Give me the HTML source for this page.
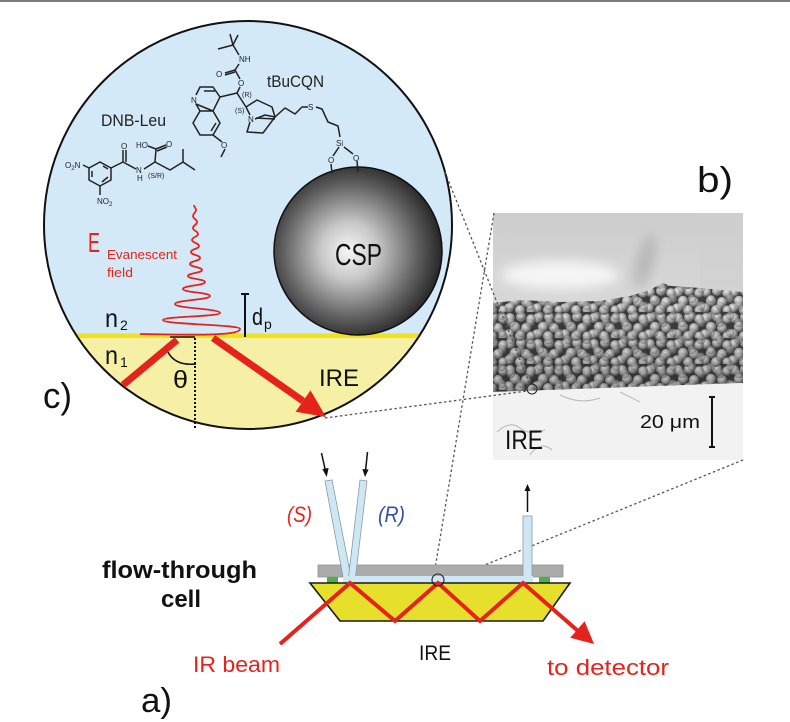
<!DOCTYPE html>
<html><head><meta charset="utf-8"><style>
html,body{margin:0;padding:0;background:#fff;}
svg{display:block;}
text{font-family:"Liberation Sans",sans-serif;}
</style></head><body>
<svg width="790" height="722" viewBox="0 0 790 722" xmlns="http://www.w3.org/2000/svg">
<defs>
<clipPath id="cc"><circle cx="248" cy="225" r="204"/></clipPath>
<radialGradient id="sph" cx="0.46" cy="0.5" r="0.56" fx="0.44" fy="0.5">
 <stop offset="0" stop-color="#f6f6f6"/>
 <stop offset="0.3" stop-color="#c8c8c8"/>
 <stop offset="0.72" stop-color="#5e5e5e"/>
 <stop offset="1" stop-color="#1e1e1e"/>
</radialGradient>
<linearGradient id="semTop" x1="0" y1="0" x2="0" y2="1">
 <stop offset="0" stop-color="#cdcdcd"/>
 <stop offset="0.45" stop-color="#dadada"/>
 <stop offset="1" stop-color="#eeeeee"/>
</linearGradient>
<radialGradient id="bead" cx="0.4" cy="0.35" r="0.65">
 <stop offset="0" stop-color="#f0f0f0"/>
 <stop offset="0.5" stop-color="#b6b6b6"/>
 <stop offset="1" stop-color="#5a5a5a"/>
</radialGradient>
<pattern id="beads" width="28" height="26" patternUnits="userSpaceOnUse">
 <rect width="28" height="26" fill="#3e3e3e"/>
 <circle cx="6" cy="6" r="5" fill="url(#bead)"/>
 <circle cx="17" cy="5" r="5" fill="url(#bead)"/>
 <circle cx="27" cy="7" r="4.8" fill="url(#bead)"/>
 <circle cx="-1" cy="7" r="4.8" fill="url(#bead)"/>
 <circle cx="11" cy="15" r="5.2" fill="url(#bead)"/>
 <circle cx="22" cy="16" r="5" fill="url(#bead)"/>
 <circle cx="5" cy="22" r="4.8" fill="url(#bead)"/>
 <circle cx="16" cy="24" r="5" fill="url(#bead)"/>
 <circle cx="16" cy="-2" r="5" fill="url(#bead)"/>
 <circle cx="5" cy="-4" r="4.8" fill="url(#bead)"/>
 <circle cx="27" cy="24" r="4.5" fill="url(#bead)"/>
 <circle cx="-1" cy="24" r="4.5" fill="url(#bead)"/>
</pattern>
<pattern id="beads2" width="19" height="17" patternUnits="userSpaceOnUse" patternTransform="translate(3,5)">
 <circle cx="5" cy="5" r="4.2" fill="url(#bead)"/>
 <circle cx="14" cy="12" r="4.4" fill="url(#bead)"/>
</pattern>
<linearGradient id="layerShade" x1="0" y1="0" x2="0" y2="1">
 <stop offset="0" stop-color="#000" stop-opacity="0"/>
 <stop offset="1" stop-color="#000" stop-opacity="0.2"/>
</linearGradient>
<filter id="blur" x="-50%" y="-50%" width="200%" height="200%"><feGaussianBlur stdDeviation="6"/></filter>
</defs>

<rect width="790" height="722" fill="#fff"/>
<rect x="0" y="0" width="790" height="2" fill="#7c7c7c"/>

<!-- ===== Panel c: circle ===== -->
<g clip-path="url(#cc)">
 <rect x="40" y="18" width="420" height="420" fill="#d4e9f7"/>
 <rect x="40" y="336" width="420" height="100" fill="#f6f0a6"/>
 <rect x="40" y="333.5" width="420" height="4.5" fill="#f2e219"/>
</g>
<circle cx="248" cy="225" r="204" fill="none" stroke="#111" stroke-width="2"/>

<!-- sphere -->
<circle cx="358" cy="251" r="84" fill="url(#sph)" stroke="#111" stroke-width="1.5"/>
<text x="335" y="265" font-size="31" fill="#111" textLength="47" lengthAdjust="spacingAndGlyphs">CSP</text>

<!-- tBuCQN structure -->
<g stroke="#222" stroke-width="1.5" fill="none" stroke-linejoin="round">
 <path d="M233,45 L230,34 M233,45 L238,35 M233,45 L218,49 M233,45 L239,55"/>
 <path d="M239,64 L235,70 L225,73 M235,72 L225,75 M235,70 L240,79 M240,87 L237,93 L220,97 M237,93 L246,107"/>
 <path d="M220,97 L213,87 L200,87 L196,95 M196,104 L200,111 L213,111 Z M213,111 L220,123 L213,135 L200,135 L193,123 L200,111 M215,91 L204,91 M216,123 L211,131 M213,135 L222,142 M225,149 L221,157"/>
 <path d="M220,97 L213,111"/>
 <path d="M246,107 L250,115 M250,122 L247,132 L263,133 L275,117 L272,107 L257,100 L246,107 M255,119 L265,115 L275,117 M256,118 L275,119"/>
 <path d="M275,117 L285,108 L295,114 L302,107 L308,107 M316,107 L322,109 L328,122 L338,126 L340,137"/>
 <path d="M339,147 L333,156 M344,147 L353,154 M331,164 L332,173 M357,161 L358,172"/>
</g>
<g font-size="8" fill="#222">
 <text x="239" y="62">NH</text>
 <text x="216" y="77">O</text>
 <text x="238" y="86">O</text>
 <text x="242" y="97" font-size="7">(R)</text>
 <text x="235" y="113" font-size="7">(S)</text>
 <text x="191" y="103">N</text>
 <text x="248" y="122">N</text>
 <text x="221" y="148">O</text>
 <text x="308" y="110">S</text>
 <text x="336" y="146">Si</text>
 <text x="328" y="163">O</text>
 <text x="353" y="161">O</text>
</g>
<text x="267" y="87" font-size="17" fill="#222" textLength="57" lengthAdjust="spacingAndGlyphs">tBuCQN</text>

<!-- DNB-Leu structure -->
<g stroke="#222" stroke-width="1.5" fill="none" stroke-linejoin="round">
 <path d="M100,162 L111,168 L111,180 L100,186 L89,180 L89,168 Z M103,166 L108,169 M108,177 L102,182 M92,177 L92,171"/>
 <path d="M83,165 L89,168 M100,186 L100,195"/>
 <path d="M111,168 L123,162 L123,150 M126,162 L126,150 M123,162 L136,169 M144,169 L155,162 L170,170 L183,162 L183,149 M183,162 L195,170"/>
 <path d="M155,162 L156,149 L148,146 M156,149 L166,145 M157,151 L167,147"/>
</g>
<g font-size="8" fill="#222">
 <text x="65" y="168">O<tspan font-size="6" dy="2">2</tspan><tspan dy="-2">N</tspan></text>
 <text x="97" y="204">NO<tspan font-size="6" dy="2">2</tspan></text>
 <text x="121" y="149">O</text>
 <text x="136" y="173">N</text>
 <text x="137" y="181">H</text>
 <text x="136" y="148">HO</text>
 <text x="166" y="147">O</text>
 <text x="148" y="178" font-size="7">(S/R)</text>
</g>
<text x="101" y="126" font-size="17" fill="#222" textLength="65" lengthAdjust="spacingAndGlyphs">DNB-Leu</text>

<!-- evanescent wave -->
<path d="M140,334 C190,335 240,336 240,329 C240,324.5 163,324.5 163,320 C163,316.5 220,316.5 220,313 C220,308.5 175,308.5 175,304 C175,300 210,300 210,296 C210,292.5 183,292.5 183,289 C183,285.5 205,285.5 205,282 C205,279 188,279 188,276 C188,273 202,273 202,270 C202,267 190,267 190,264 C190,261 200,261 200,258 C200,255 191,255 191,252 C191,249 199,249 199,246 C199,243 192,243 192,240 C192,237 198,237 198,234 C198,231 193,231 193,228 C193,225 197,225 197,222 C197,219 193,219 193,216 C193,213 196,213 196,210 C196,207.5 194,207.5 194,205" fill="none" stroke="#e5231c" stroke-width="1.8"/>

<text x="88" y="252" font-size="28" fill="#e5231c" textLength="12" lengthAdjust="spacingAndGlyphs">E</text>
<text x="107" y="259" font-size="12.5" fill="#e5231c" textLength="70" lengthAdjust="spacingAndGlyphs">Evanescent</text>
<text x="107" y="277" font-size="12.5" fill="#e5231c" textLength="26" lengthAdjust="spacingAndGlyphs">field</text>

<!-- n labels -->
<text x="105" y="327" font-size="26" fill="#111" textLength="13" lengthAdjust="spacingAndGlyphs">n</text>
<text x="120" y="330" font-size="14" fill="#111">2</text>
<text x="105" y="364" font-size="26" fill="#111" textLength="13" lengthAdjust="spacingAndGlyphs">n</text>
<text x="120" y="367" font-size="14" fill="#111">1</text>

<!-- dp -->
<path d="M245,294 L245,337 M241,294 L249,294" stroke="#111" stroke-width="2"/>
<text x="252" y="325" font-size="24" fill="#111" textLength="11" lengthAdjust="spacingAndGlyphs">d</text>
<text x="264" y="329" font-size="14" fill="#111">p</text>

<!-- normal / angle -->
<path d="M170,337 L195,337" stroke="#111" stroke-width="1.5"/>
<path d="M195,338 L195,428" stroke="#111" stroke-width="2" stroke-dasharray="2,2"/>
<path d="M168,352 Q175,366 196,364" fill="none" stroke="#111" stroke-width="1.5"/>
<text x="173" y="388" font-family="Liberation Serif, serif" font-size="25" fill="#111" textLength="15" lengthAdjust="spacingAndGlyphs">θ</text>

<!-- IR beams in circle -->
<path d="M123,385 L177,340" stroke="#e5231c" stroke-width="7"/>
<path d="M213,338 L303,401" stroke="#e5231c" stroke-width="7"/>
<polygon points="326,417 295.6,411.7 310.5,390.4" fill="#e5231c"/>

<text x="319" y="386" font-size="24" fill="#111" textLength="40" lengthAdjust="spacingAndGlyphs">IRE</text>
<text x="43" y="408" font-size="36" fill="#111" textLength="29" lengthAdjust="spacingAndGlyphs">c)</text>

<!-- ===== Panel b: SEM ===== -->
<g>
 <rect x="493" y="213" width="250" height="247" fill="url(#semTop)"/>
 <ellipse cx="560" cy="275" rx="60" ry="14" fill="#f6f6f6" filter="url(#blur)"/>
 <ellipse cx="645" cy="262" rx="8" ry="28" fill="#8c8c8c" opacity="0.4" filter="url(#blur)" transform="rotate(15 645 262)"/>
 <rect x="700" y="213" width="43" height="80" fill="#cfcfcf" opacity="0.5"/>
 <polygon points="493,303 520,300 560,302 600,301 630,296 650,290 662,283 672,286 700,288 743,292 743,383 493,392" fill="url(#beads)"/>
 <polygon points="493,303 520,300 560,302 600,301 630,296 650,290 662,283 672,286 700,288 743,292 743,383 493,392" fill="url(#beads2)" opacity="0.55"/>
 <polygon points="493,303 520,300 560,302 600,301 630,296 650,290 662,283 672,286 700,288 743,292 743,383 493,392" fill="url(#layerShade)"/>
 <polygon points="493,392 743,383 743,460 493,460" fill="#f2f2f2"/>
 <path d="M497,432 Q510,420 520,428 T545,430 M560,395 Q580,405 600,398 M530,455 Q540,440 552,450 M620,392 L640,402" fill="none" stroke="#b8b8b8" stroke-width="1"/>
 <text x="505" y="449" font-size="27" fill="#111" textLength="38" lengthAdjust="spacingAndGlyphs">IRE</text>
 <text x="640" y="428" font-size="18" fill="#111" textLength="60" lengthAdjust="spacingAndGlyphs">20 μm</text>
 <path d="M712,397 L712,447 M709,397 L715,397 M709,447 L715,447" stroke="#111" stroke-width="2"/>
 <circle cx="532" cy="389" r="5" fill="none" stroke="#222" stroke-width="1"/>
</g>
<text x="697" y="192" font-size="36" fill="#111" textLength="36" lengthAdjust="spacingAndGlyphs">b)</text>

<!-- dotted connector lines -->
<g stroke="#555" stroke-width="1.3" stroke-dasharray="2.5,2.5" fill="none">
 <path d="M445,172 L530,385"/>
 <path d="M325,418 L527,391"/>
 <path d="M494,213 L434,575"/>
 <path d="M743,460 L443,582"/>
</g>

<!-- ===== Panel a: flow cell ===== -->
<rect x="318" y="565" width="245" height="12" fill="#ababab" stroke="#939393" stroke-width="0.8"/>
<rect x="327" y="577" width="11" height="6" fill="#4cae4c"/>
<rect x="539" y="577" width="11" height="6" fill="#4cae4c"/>
<g fill="#cfe7f5" stroke="#8a9aa6" stroke-width="0.8">
 <polygon points="325,481 332,480 351,577 343,577"/>
 <polygon points="360,480 367,481 355.5,577 348.5,577"/>
 <rect x="523" y="516" width="9" height="62"/>
</g>
<rect x="343" y="576" width="190" height="7" fill="#cfe7f5"/>
<rect x="524" y="570" width="7" height="10" fill="#cfe7f5"/>
<polygon points="310,583 570,583 543,621 340,621" fill="#e6df2c" stroke="#1a1a1a" stroke-width="1.6"/>
<polyline points="280,644 350,583 395,621 438,583 480,621 523,583 578,631" fill="none" stroke="#e5231c" stroke-width="4" stroke-linejoin="miter"/>
<polygon points="594,644 570.2,637.8 584.6,621.2" fill="#e5231c"/>
<circle cx="438" cy="580" r="6" fill="none" stroke="#222" stroke-width="1.1"/>

<!-- flow arrows -->
<g stroke="#111" stroke-width="1.5" fill="#111">
 <path d="M321.5,453 L325.5,471" fill="none"/>
 <polygon points="326.7,477 322.3,469 328.6,468" stroke="none"/>
 <path d="M367.5,452 L365.5,471" fill="none"/>
 <polygon points="365,477 362.4,469 368.6,469.5" stroke="none"/>
 <path d="M527.5,512 L527.5,490" fill="none"/>
 <polygon points="527.5,484 524.5,491 530.5,491" stroke="none"/>
</g>

<text x="287" y="522" font-size="22" font-style="italic" fill="#e5231c" textLength="25" lengthAdjust="spacingAndGlyphs">(S)</text>
<text x="378" y="522" font-size="22" font-style="italic" fill="#2f52a3" textLength="27" lengthAdjust="spacingAndGlyphs">(R)</text>
<text x="102" y="578" font-size="24" font-weight="bold" fill="#111" textLength="155" lengthAdjust="spacingAndGlyphs">flow-through</text>
<text x="161" y="607" font-size="24" font-weight="bold" fill="#111" textLength="40" lengthAdjust="spacingAndGlyphs">cell</text>
<text x="193" y="672" font-size="22" fill="#e5231c" textLength="87" lengthAdjust="spacingAndGlyphs">IR beam</text>
<text x="419" y="660" font-size="21" fill="#111" textLength="32" lengthAdjust="spacingAndGlyphs">IRE</text>
<text x="547" y="675" font-size="22" fill="#e5231c" textLength="122" lengthAdjust="spacingAndGlyphs">to detector</text>
<text x="141" y="712" font-size="34" fill="#111" textLength="31" lengthAdjust="spacingAndGlyphs">a)</text>
</svg>
</body></html>
